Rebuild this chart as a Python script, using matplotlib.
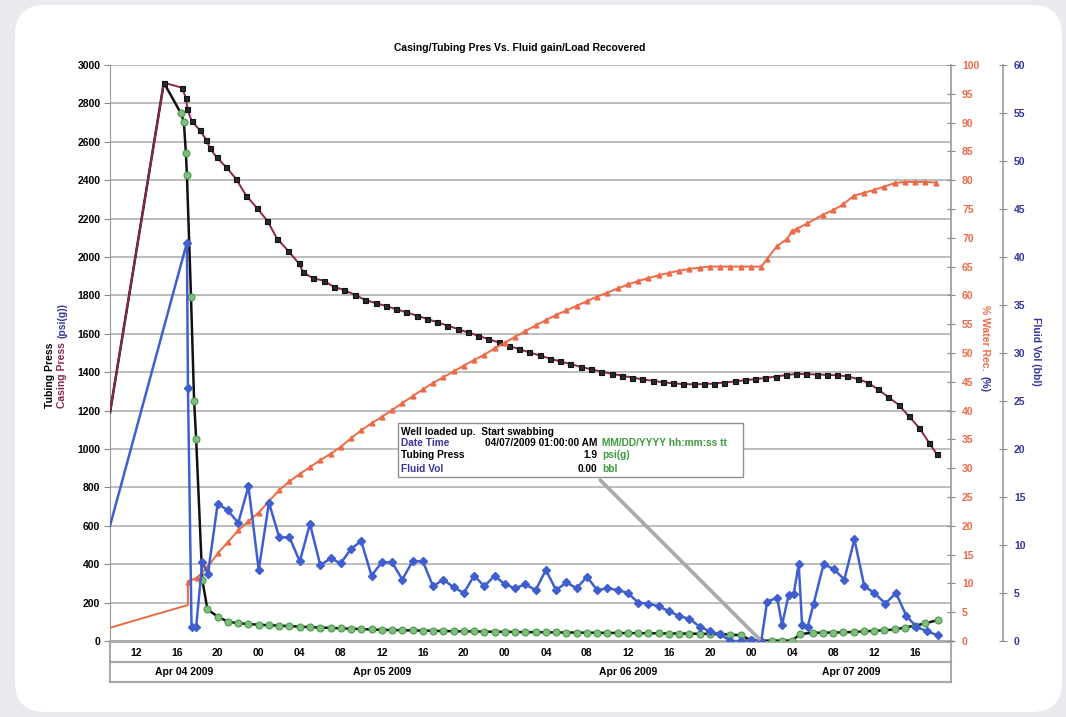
import matplotlib.pyplot as plt
from matplotlib.patches import FancyBboxPatch, Rectangle

plt.rcParams['font.family'] = ['Liberation Sans', 'DejaVu Sans']
plt.rcParams['font.weight'] = 'bold'

# time axis: hours counted from Apr 04 2009 00:00
casing_hours = [9.5, 14.75, 16.5, 16.9, 17.05, 17.45, 18.25, 18.9, 19.25, 19.9,
                20.85, 21.8, 22.8, 23.8, 24.85, 25.8, 26.9, 27.9, 28.35, 29.3,
                30.35, 31.3, 32.35, 33.4, 34.4, 35.4, 36.4, 37.4, 38.4, 39.4,
                40.4, 41.4, 42.4, 43.4, 44.4, 45.4, 46.4, 47.4, 48.4, 49.4,
                50.4, 51.4, 52.4, 53.4, 54.4, 55.4, 56.4, 57.4, 58.4, 59.4,
                60.4, 61.4, 62.4, 63.4, 64.4, 65.4, 66.4, 67.4, 68.4, 69.4,
                70.4, 71.4, 72.4, 73.4, 74.4, 75.4, 76.4, 77.4, 78.4, 79.4,
                80.4, 81.4, 82.4, 83.4, 84.4, 85.4, 86.4, 87.4, 88.4, 89.4, 90.1]
casing_press = [1190, 2908, 2882, 2830, 2769, 2710, 2661, 2609, 2566, 2519,
                2467, 2406, 2318, 2257, 2188, 2094, 2031, 1967, 1920, 1889,
                1877, 1845, 1828, 1802, 1776, 1760, 1745, 1728, 1712, 1695,
                1678, 1660, 1643, 1625, 1607, 1590, 1572, 1555, 1537, 1520,
                1503, 1487, 1471, 1456, 1442, 1428, 1415, 1403, 1392, 1382,
                1372, 1363, 1355, 1348, 1342, 1338, 1337, 1338, 1341, 1346,
                1352, 1358, 1364, 1370, 1377, 1385, 1391, 1390, 1388, 1386,
                1384, 1378, 1365, 1345, 1310, 1270, 1230, 1170, 1110, 1030, 974]

tubing_hours = [9.5, 14.75, 16.4, 16.7, 16.9, 17.0, 17.4, 17.7, 17.9, 18.5, 19.0,
                20, 21, 22, 23, 24, 25, 26, 27, 28, 29, 30, 31, 32, 33, 34, 35,
                36, 37, 38, 39, 40, 41, 42, 43, 44, 45, 46, 47, 48, 49, 50, 51,
                52, 53, 54, 55, 56, 57, 58, 59, 60, 61, 62, 63, 64, 65, 66, 67,
                68, 69, 70, 71, 72, 73, 74, 75, 76, 76.8, 78, 79, 80, 81, 82, 83,
                84, 85, 86, 87, 88, 89, 90.2]
tubing_press = [1190, 2908, 2750, 2705, 2540, 2427, 1790, 1251, 1050, 318, 165,
                127, 100, 93, 88, 85, 82, 80, 77, 75, 72, 70, 68, 66, 64, 62, 60,
                58, 57, 56, 55, 54, 53, 52, 51, 50, 50, 49, 48, 48, 47, 46, 46,
                45, 45, 44, 44, 43, 43, 42, 42, 41, 41, 40, 40, 39, 39, 38, 38,
                37, 36, 33, 30, 4, 1.9, 2, 2, 2, 36, 43, 43, 44, 45, 47, 50,
                53, 56, 60, 70, 80, 92, 109]

water_hours = [9.5, 17.1, 17.1, 18, 19, 20, 21, 22, 23, 24, 25, 26, 27, 28, 29,
               30, 31, 32, 33, 34, 35, 36, 37, 38, 39, 40, 41, 42, 43, 44, 45,
               46, 47, 48, 49, 50, 51, 52, 53, 54, 55, 56, 57, 58, 59, 60, 61,
               62, 63, 64, 65, 66, 67, 68, 69, 70, 71, 72, 73, 73.6, 74.5, 75.5,
               76, 76.5, 77.5, 79, 80, 81, 82, 83, 84, 85, 86, 87, 88, 89, 90]
water_pct = [2.3, 6.25, 10.3, 11.0, 12.8, 15.2, 17.2, 19.2, 20.8, 22.3, 24.3,
             26.2, 27.7, 29.0, 30.2, 31.4, 32.5, 33.7, 35.2, 36.6, 37.8, 38.9,
             40.1, 41.3, 42.5, 43.7, 44.8, 45.8, 46.8, 47.8, 48.8, 49.7, 50.8,
             51.8, 52.8, 53.8, 54.8, 55.7, 56.6, 57.4, 58.2, 59.0, 59.8, 60.5,
             61.2, 61.9, 62.5, 63.0, 63.5, 63.9, 64.3, 64.6, 64.8, 65.0, 65.0,
             65.0, 65.0, 65.0, 65.0, 66.4, 68.5, 69.8, 71.1, 71.6, 72.5, 74.0,
             74.8, 75.8, 77.3, 77.8, 78.3, 78.9, 79.5, 79.7, 79.7, 79.7, 79.6]

fluid_hours = [9.5, 17.0, 17.1, 17.45, 17.9, 18.5, 19.05, 20, 21, 22, 23, 24, 25,
               26, 27, 28, 29, 30, 31, 32, 33, 34, 35, 36, 37, 38, 39, 40, 41,
               42, 43, 44, 45, 46, 47, 48, 49, 50, 51, 52, 53, 54, 55, 56, 57,
               58, 59, 60, 61, 62, 63, 64, 65, 66, 67, 68, 69, 70, 71, 72, 73,
               73.57, 74.55, 75.03, 75.67, 76.16, 76.65, 76.98, 77.53, 78.11,
               79.08, 80.06, 81.1, 82.08, 83.05, 84.03, 85.1, 86.14, 87.15,
               88.12, 89.16, 90.2]
fluid_vol = [12.0, 41.5, 26.4, 1.5, 1.5, 8.2, 7.0, 14.3, 13.6, 12.3, 16.1, 7.4,
             14.4, 10.8, 10.8, 8.3, 12.2, 7.9, 8.6, 8.1, 9.6, 10.4, 6.8, 8.2,
             8.2, 6.4, 8.3, 8.3, 5.7, 6.4, 5.6, 5.0, 6.8, 5.7, 6.8, 5.9, 5.5,
             5.9, 5.3, 7.4, 5.3, 6.1, 5.5, 6.7, 5.3, 5.5, 5.3, 5.0, 4.0, 3.9,
             3.6, 3.1, 2.6, 2.3, 1.5, 1.0, 0.7, 0.0, 0.0, 0.1, 0.0,
             4.1, 4.5, 1.7, 4.8, 4.9, 8.0, 1.7, 1.5, 3.9, 8.0, 7.5, 6.4, 10.6,
             5.7, 5.0, 3.9, 5.0, 2.6, 1.5, 1.0, 0.6]

hour_ticks = [12, 16, 20, 24, 28, 32, 36, 40, 44, 48, 52, 56, 60, 64, 68, 72,
              76, 80, 84, 88]
hour_labels = ['12', '16', '20', '00', '04', '08', '12', '16', '20', '00',
               '04', '08', '12', '16', '20', '00', '04', '08', '12', '16']
day_labels = ['Apr 04 2009', 'Apr 05 2009', 'Apr 06 2009', 'Apr 07 2009']
day_centres = [16.75, 36, 60, 81.75]

W, H = 1066, 717
GRID = '#b8b8b8'
RED = '#ec6a48'
BLUE = '#3f5fcf'
NAVY = '#35359c'
MAROON = '#8c2550'
GREEN = '#3c9a3c'


def fx(px):
    return px / W


def fy(py):
    return 1 - py / H


fig = plt.figure(figsize=(W / 100, H / 100), dpi=100)
fig.patch.set_facecolor('#e8eaed')
card = FancyBboxPatch((0.15, 0.05), 10.47, 7.07,
                      boxstyle='round,pad=0,rounding_size=0.3',
                      transform=fig.dpi_scale_trans, facecolor='white',
                      edgecolor='none', zorder=-1)
fig.add_artist(card)

ax = fig.add_axes([fx(110), 1 - 641 / H, 841 / W, 576 / H])
ax.set_facecolor('white')
ax2 = ax.twinx()
ax3 = ax.twinx()

# pressure traces
ax.plot(casing_hours, casing_press, color=MAROON, lw=1.4, marker='s', ms=3.6,
        mfc='#2a2a2a', mec='#111111', mew=0.8, markevery=slice(1, None), zorder=4)
ax.plot(tubing_hours, tubing_press, color='#111111', lw=1.8, marker='o', ms=5,
        mfc='#7cc07c', mec='#4f9a4f', mew=0.8, markevery=slice(2, None), zorder=3)
ax.set_xlim(9.5, 91.5)
ax.set_ylim(0, 3000)
ax.set_yticks(range(0, 3001, 200))
ax.yaxis.grid(True, color=GRID, lw=1.3)
ax.set_axisbelow(True)
ax.set_xticks(hour_ticks, hour_labels)
ax.tick_params(axis='x', length=0, pad=5, labelsize=7.5)
ax.tick_params(axis='y', length=4, color='#888888', pad=3, labelsize=7.5)
for s in ['top', 'right']:
    ax.spines[s].set_visible(False)
ax.spines['left'].set_color('#999999')
ax.spines['bottom'].set_color('#aaaaaa')
ax.spines['bottom'].set_linewidth(2)

# bottom date tier
for yy in [-0.036, -0.071]:
    ax.plot([0, 1], [yy, yy], transform=ax.transAxes, clip_on=False,
            color='#aaaaaa', lw=1.6)
for xx in [0, 1]:
    ax.plot([xx, xx], [0, -0.071], transform=ax.transAxes, clip_on=False,
            color='#999999', lw=1.2)
for c, lab in zip(day_centres, day_labels):
    ax.text(c, -0.054, lab, transform=ax.get_xaxis_transform(), ha='center',
            va='center', fontsize=7.5)

# % water recovered
ax2.plot(water_hours, water_pct, color=RED, lw=1.4, marker='^', ms=3.5,
         mfc=RED, mec=RED, markevery=slice(2, None))
ax2.set_ylim(0, 100)
ax2.set_yticks(range(0, 101, 5))
ax2.tick_params(axis='y', direction='inout', length=6, color='#888888', pad=5,
                labelsize=7.5, labelcolor=RED)
for s in ['top', 'left', 'bottom']:
    ax2.spines[s].set_visible(False)
ax2.spines['right'].set_color('#999999')
ax2.spines['right'].set_linewidth(1.2)

# fluid volume
ax3.plot(fluid_hours, fluid_vol, color=BLUE, lw=1.8, marker='D', ms=4.2,
         mfc=BLUE, mec=BLUE, markevery=slice(1, None))
ax3.spines['right'].set_position(('axes', (1003 - 110) / 841))
ax3.set_yticks(range(0, 61, 5))
ax3.tick_params(axis='y', direction='inout', length=6, color='#888888', pad=5,
                labelsize=7.5, labelcolor=NAVY)
for s in ['top', 'left', 'bottom']:
    ax3.spines[s].set_visible(False)
ax3.spines['right'].set_color('#999999')
ax3.spines['right'].set_linewidth(1.2)

# annotation callout
ax3.annotate('', xy=(73, 0), xycoords=ax.transData, xytext=(57.1, 849),
             textcoords=ax.transData,
             arrowprops=dict(arrowstyle='-', color='#a8a8a8', lw=2.6))
ax3.add_patch(Rectangle((37.6, 854), 33.6, 281, transform=ax.transData,
                        facecolor='white', edgecolor='#909090', lw=1, zorder=5))
rows = [
    (1089, 'Well loaded up.  Start swabbing', 'black', '', ''),
    (1031, 'Date Time', NAVY, '04/07/2009 01:00:00 AM', 'MM/DD/YYYY hh:mm:ss tt'),
    (969, 'Tubing Press', 'black', '1.9', 'psi(g)'),
    (896, 'Fluid Vol', NAVY, '0.00', 'bbl'),
]
for yv, lab, col, val, unit in rows:
    ax3.text(37.85, yv, lab, transform=ax.transData, color=col, fontsize=7.3,
             va='center', ha='left', zorder=6)
    if val:
        ax3.text(57.0, yv, val, transform=ax.transData, color='black',
                 fontsize=7.3, va='center', ha='right', zorder=6)
        ax3.text(57.5, yv, unit, transform=ax.transData, color=GREEN,
                 fontsize=7.3, va='center', ha='left', zorder=6)
ax3.set_ylim(0, 60)

# titles and axis labels
fig.text(fx(520), fy(48), 'Casing/Tubing Pres Vs. Fluid gain/Load Recovered',
         ha='center', va='center', fontsize=7.5)
fig.text(fx(50), fy(408), 'Tubing Press', rotation=90, rotation_mode='anchor',
         ha='left', va='center', fontsize=7.5, color='black')
fig.text(fx(62), fy(408), 'Casing Press', rotation=90, rotation_mode='anchor',
         ha='left', va='center', fontsize=7.5, color=MAROON)
fig.text(fx(62), fy(338), '(psi(g))', rotation=90, rotation_mode='anchor',
         ha='left', va='center', fontsize=7.5, color=NAVY)
fig.text(fx(985), fy(305), '% Water Rec.', rotation=-90, rotation_mode='anchor',
         ha='left', va='center', fontsize=7.5, color=RED)
fig.text(fx(985), fy(376), '(%)', rotation=-90, rotation_mode='anchor',
         ha='left', va='center', fontsize=7.5, color=NAVY)
fig.text(fx(1036), fy(317), 'Fluid Vol (bbl)', rotation=-90,
         rotation_mode='anchor', ha='left', va='center', fontsize=7.5,
         color=NAVY)

fig.savefig('out.png', dpi=100, facecolor=fig.get_facecolor())
